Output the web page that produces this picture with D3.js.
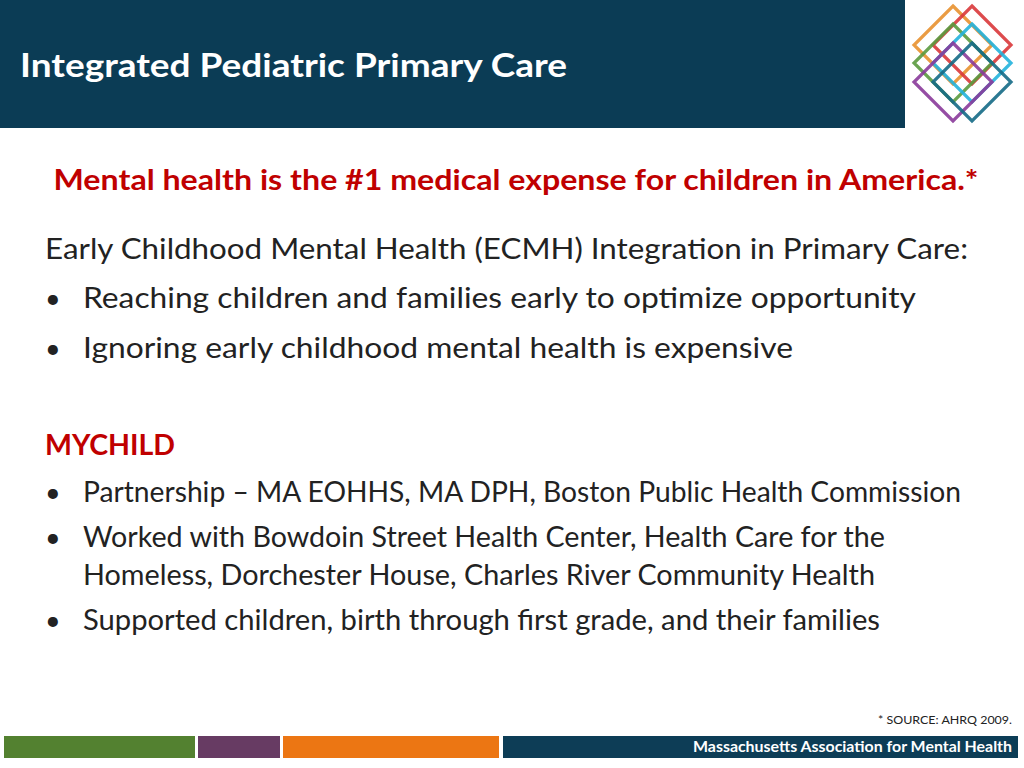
<!DOCTYPE html><html><head><meta charset="utf-8">
<script src="https://cdn.jsdelivr.net/npm/d3@7"></script>
<style>body{margin:0;background:#fff}svg{display:block}text{font-family:Lato,"Open Sans",sans-serif}</style></head><body>
<script>
const title = "Integrated Pediatric Primary Care";
const headline = "Mental health is the #1 medical expense for children in America.*";
const lines = [
 {t:"Early Childhood Mental Health (ECMH) Integration in Primary Care:", bullet:false, y:259, red:false, w:923},
 {t:"Reaching children and families early to optimize opportunity", bullet:true, y:308, w:833},
 {t:"Ignoring early childhood mental health is expensive", bullet:true, y:358, w:710},
 {t:"MYCHILD", bullet:false, y:455, red:true, w:130},
 {t:"Partnership – MA EOHHS, MA DPH, Boston Public Health Commission", bullet:true, y:502, w:878},
 {t:"Worked with Bowdoin Street Health Center, Health Care for the", bullet:true, y:547, w:802},
 {t:"Homeless, Dorchester House, Charles River Community Health", bullet:false, indent:true, y:585, w:792},
 {t:"Supported children, birth through first grade, and their families", bullet:true, y:630, w:797}
];
const source = "* SOURCE: AHRQ 2009.";
const footerLabel = "Massachusetts Association for Mental Health";
const footerSegs = [{x0:4,x1:195,c:"#538130"},{x0:198,x1:280,c:"#673b63"},{x0:283,x1:499,c:"#ec7613"},{x0:503,x1:1018,c:"#0d3d56"}];
const diamonds = [{cx:953,cy:45,c:"#e8912f"},{cx:972,cy:45,c:"#d9373a"},{cx:953,cy:63,c:"#5a9a3e"},{cx:972,cy:63,c:"#22b3dd"},{cx:953,cy:82,c:"#8a3a9a"},{cx:972,cy:82,c:"#146a86"}];

const svg = d3.select("body").append("svg").attr("width",1024).attr("height",768);
svg.append("rect").attr("width",905).attr("height",128).attr("fill","#0b3c55");
svg.append("text").attr("x",20).attr("y",77).attr("fill","#fff").attr("font-size",33).attr("font-weight","bold").attr("textLength",547).attr("lengthAdjust","spacingAndGlyphs").text(title);
const lg = svg.append("g");
diamonds.forEach(d=>{
  const r=39;
  lg.append("path").attr("d",`M${d.cx},${d.cy-r}L${d.cx+r},${d.cy}L${d.cx},${d.cy+r}L${d.cx-r},${d.cy}Z`)
   .attr("fill","none").attr("stroke",d.c).attr("stroke-width",3.2).attr("opacity",0.9);
});
svg.append("text").attr("x",516).attr("y",190).attr("text-anchor","middle").attr("fill","#c00000").attr("font-size",28).attr("font-weight","bold").attr("textLength",925).attr("lengthAdjust","spacingAndGlyphs").text(headline);
lines.forEach(l=>{
  const x = (l.bullet||l.indent)?83:45;
  if(l.bullet) svg.append("text").attr("x",45).attr("y",l.y).attr("font-size",27).attr("fill","#222").text("•");
  svg.append("text").attr("x",x).attr("y",l.y).attr("font-size",29).attr("font-weight",l.red?"bold":"normal").attr("fill",l.red?"#c00000":"#222").attr("textLength",l.w).attr("lengthAdjust","spacingAndGlyphs").text(l.t);
});
svg.append("text").attr("x",1012).attr("y",724).attr("text-anchor","end").attr("font-size",12).attr("fill","#222").attr("textLength",134).attr("lengthAdjust","spacingAndGlyphs").text(source);
footerSegs.forEach(s=>svg.append("rect").attr("x",s.x0).attr("y",736).attr("width",s.x1-s.x0).attr("height",22).attr("fill",s.c));
svg.append("text").attr("x",1012).attr("y",752).attr("text-anchor","end").attr("font-size",15).attr("font-weight","bold").attr("fill","#fff").attr("textLength",319).attr("lengthAdjust","spacingAndGlyphs").text(footerLabel);
</script></body></html>
